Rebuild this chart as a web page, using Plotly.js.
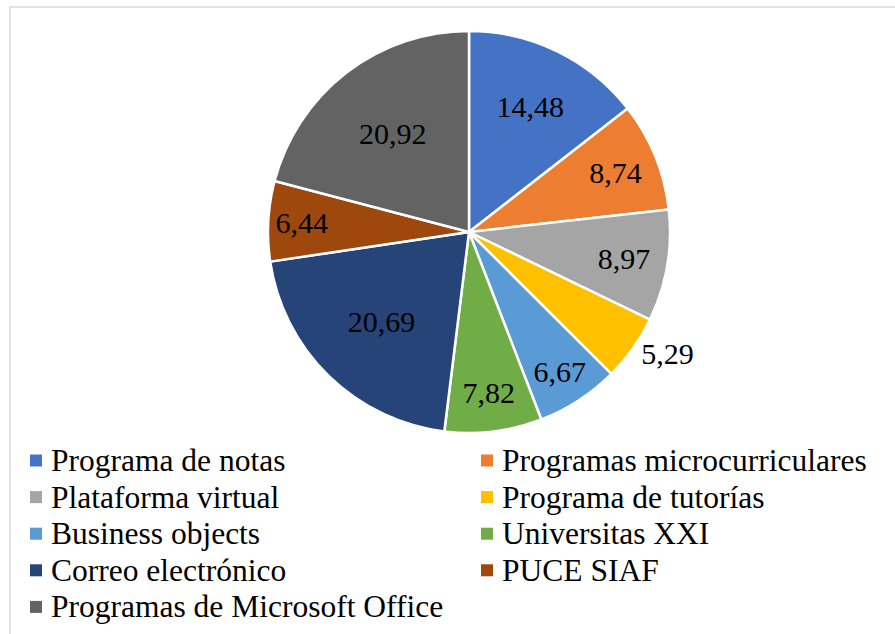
<!DOCTYPE html>
<html>
<head>
<meta charset="utf-8">
<script src="https://cdn.plot.ly/plotly-3.0.1.min.js"></script>
<style>
  html, body { margin: 0; padding: 0; background: #ffffff; }
  #chart { width: 895px; height: 634px; }
</style>
</head>
<body>
<div id="chart"></div>
<script>
const categories = [
  "Programa de notas",
  "Programas microcurriculares",
  "Plataforma virtual",
  "Programa de tutorías",
  "Business objects",
  "Universitas XXI",
  "Correo electrónico",
  "PUCE SIAF",
  "Programas de Microsoft Office"
];
const values = [14.48, 8.74, 8.97, 5.29, 6.67, 7.82, 20.69, 6.44, 20.92];
const colors = ["#4472C4", "#ED7D31", "#A5A5A5", "#FFC000", "#5B9BD5", "#70AD47", "#264478", "#9E480E", "#636363"];
const textPositions = ["inside", "inside", "inside", "outside", "inside", "inside", "inside", "inside", "inside"];

const W = 895, H = 634;
const FONT = "Liberation Serif, Times New Roman, serif";

const trace = {
  type: "pie",
  labels: categories,
  values: values,
  sort: false,
  direction: "clockwise",
  rotation: 0,
  marker: { colors: colors, line: { color: "#ffffff", width: 2.5 } },
  texttemplate: "%{value:.2f}",
  textposition: textPositions,
  insidetextorientation: "horizontal",
  textfont: { family: FONT, size: 30, color: "#000000" },
  insidetextfont: { family: FONT, size: 30, color: "#000000" },
  outsidetextfont: { family: FONT, size: 30, color: "#000000" },
  hoverinfo: "label+value",
  showlegend: false,
  domain: { x: [268 / W, 670 / W], y: [1 - 433 / H, 1 - 31 / H] }
};

// Custom two-column legend built from the category/colour arrays
const annotations = [];
const shapes = [];
const colX = [30, 481];
const rowY0 = 460.5, rowStep = 36.6, box = 12;
categories.forEach((name, i) => {
  const col = i % 2, row = Math.floor(i / 2);
  const cx = colX[col], cy = rowY0 + row * rowStep;
  shapes.push({
    type: "rect", xref: "paper", yref: "paper",
    x0: cx / W, x1: (cx + box) / W,
    y0: 1 - (cy + box / 2) / H, y1: 1 - (cy - box / 2) / H,
    fillcolor: colors[i], line: { width: 0 }
  });
  annotations.push({
    xref: "paper", yref: "paper",
    x: (cx + 19) / W, y: 1 - cy / H,
    xanchor: "left", yanchor: "middle",
    text: name, showarrow: false,
    font: { family: FONT, size: 31.5, color: "#000000" }
  });
});

// chart frame
shapes.push({
  type: "rect", xref: "paper", yref: "paper",
  x0: 10 / W, x1: 905 / W, y0: 1 - 645 / H, y1: 1 - 7 / H,
  line: { color: "#d9d9d9", width: 1.5 }, fillcolor: "rgba(0,0,0,0)"
});

const layout = {
  width: W, height: H,
  margin: { l: 0, r: 0, t: 0, b: 0 },
  paper_bgcolor: "#ffffff",
  plot_bgcolor: "#ffffff",
  separators: ", ",
  font: { family: FONT, color: "#000000" },
  showlegend: false,
  annotations: annotations,
  shapes: shapes
};

Plotly.newPlot("chart", [trace], layout, { displayModeBar: false, staticPlot: true });
</script>
</body>
</html>
